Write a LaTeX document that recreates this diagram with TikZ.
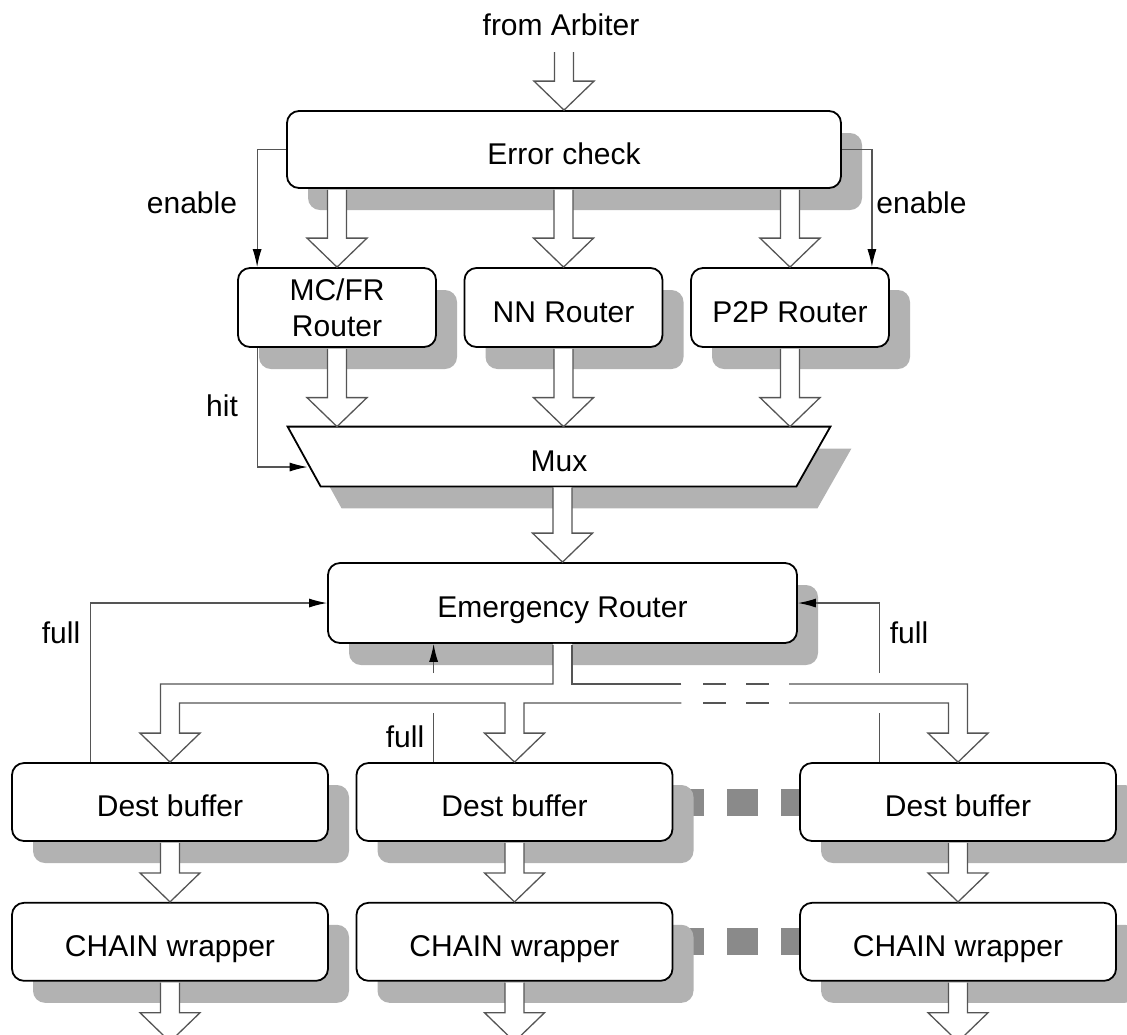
\documentclass[tikz,border=0pt]{standalone}
\usepackage{fontspec}
\setmainfont{Liberation Sans}
\usetikzlibrary{arrows.meta, positioning, calc, shadows, backgrounds}
\definecolor{lnkgray}{HTML}{555555}
\definecolor{shdgray}{HTML}{B2B2B2}
\definecolor{dotgray}{HTML}{8A8A8A}
\tikzset{
  shd/.style={drop shadow={shadow xshift=10.5pt, shadow yshift=-11pt,
    fill=shdgray, opacity=1}},
  block/.style={rectangle, rounded corners=6pt, draw=black, line width=0.9pt,
    fill=white, align=center, inner sep=0pt, text height=14.5pt, text depth=0pt, shd},
  wide/.style={block, minimum width=277pt, minimum height=38.5pt},
  router/.style={block, minimum width=99pt, minimum height=39.5pt},
  buffer/.style={block, minimum width=158pt, minimum height=39pt},
  muxbox/.style={draw=black, line width=0.9pt, fill=white, shd},
  fat/.style={draw=lnkgray, line width=0.65pt, fill=white},
  wire/.style={draw=lnkgray, line width=0.6pt},
  ar/.style={wire, -{Latex[length=9pt, width=4.5pt, black]}},
  lbl/.style={anchor=base, inner sep=0pt},
  dots/.style={dotgray, line width=13.5pt, dash pattern=on 15.5pt off 11.5pt},
}
% hollow data arrow: from #1 down to tip #2
\newcommand{\fatarrow}[2]{%
  \path (#1) coordinate (fa-s) (#2) coordinate (fa-t);
  \draw[fat] ($(fa-t |- fa-s)+(-9.5,1)$) -- ($(fa-t)+(-9.5,-29)$)
    -- ($(fa-t)+(-30,-29)$) -- (fa-t) -- ($(fa-t)+(30,-29)$)
    -- ($(fa-t)+(9.5,-29)$) -- ($(fa-t |- fa-s)+(9.5,1)$);
}
\newcommand{\headat}[1]{-- ($(#1)+(-9.5,-29)$) -- ($(#1)+(-30,-29)$) -- (#1)
  -- ($(#1)+(30,-29)$) -- ($(#1)+(9.5,-29)$)}

\begin{document}
\begin{tikzpicture}[x=0.5pt, y=-0.5pt, font=\fontsize{15}{18}\selectfont]
  \useasboundingbox (0,0) rectangle (1127,1034);
  \clip (0,0) rectangle (1127,1034);

  \node[wide] (ec) at (564,149.5) {Error check};
  \node[router, text height=, text depth=] (mcfr) at (337,307.5) {MC/FR\\Router};
  \node[router] (nn) at (563.5,307.5) {NN Router};
  \node[router] (p2p) at (790,307.5) {P2P Router};

  % mux trapezium
  \node[minimum width=271pt, minimum height=29.5pt, inner sep=0pt] (mux) at (559,456.5) {};
  \draw[muxbox] (mux.north west) -- (mux.north east) -- ($(mux.south east)+(-34,0)$)
    -- ($(mux.south west)+(33,0)$) -- cycle;
  \node[text height=14.5pt, text depth=0pt, inner sep=0pt] (muxtxt) at (mux) {Mux};

  \node[block, minimum width=234.5pt, minimum height=40pt] (er) at (562.5,603) {Emergency Router};

  \node[buffer] (db1) at (170,802) {Dest buffer};
  \node[buffer] (db2) at (514.5,802) {Dest buffer};
  \node[buffer] (db3) at (958,802) {Dest buffer};
  \node[buffer, below=30pt of db1] (ch1) {CHAIN wrapper};
  \node[buffer, below=30pt of db2] (ch2) {CHAIN wrapper};
  \node[buffer, below=30pt of db3] (ch3) {CHAIN wrapper};

  \begin{pgfonlayer}{background}
    \draw[dots] (db2.east) -- (db3.west);
    \draw[dots] (ch2.east) -- (ch3.west);
  \end{pgfonlayer}

  % distribution bus below the emergency router
  \coordinate (bo) at ($(er.south)+(0,40)$);
  \coordinate (bi) at ($(er.south)+(0,59)$);
  \coordinate (gl) at ($(db2.east)+(8,0)$);
  \coordinate (gr) at ($(db3.west)+(-10,0)$);
  \fill[white] ($(er.south)+(-9.5,0)$) -- ($(er.south |- bo)+(-9.5,0)$)
    -- ($(db1.north |- bo)+(-9.5,0)$) \headat{db1.north} -- ($(db1.north |- bi)+(9.5,0)$)
    -- ($(db2.north |- bi)+(-9.5,0)$) \headat{db2.north} -- ($(db2.north |- bi)+(9.5,0)$)
    -- ($(db3.north |- bi)+(-9.5,0)$) \headat{db3.north} -- ($(db3.north |- bo)+(9.5,0)$)
    -- ($(er.south |- bo)+(9.5,0)$) -- ($(er.south)+(9.5,0)$) -- cycle;
  \draw[fat, fill=none] ($(er.south)+(-9.5,1)$) -- ($(er.south |- bo)+(-9.5,0)$)
    -- ($(db1.north |- bo)+(-9.5,0)$) \headat{db1.north} -- ($(db1.north |- bi)+(9.5,0)$)
    -- ($(db2.north |- bi)+(-9.5,0)$) \headat{db2.north} -- ($(db2.north |- bi)+(9.5,0)$)
    -- (gl |- bi);
  \draw[fat, fill=none] (gr |- bi) -- ($(db3.north |- bi)+(-9.5,0)$) \headat{db3.north}
    -- ($(db3.north |- bo)+(9.5,0)$) -- (gr |- bo);
  \draw[fat, fill=none] (gl |- bo) -- ($(er.south |- bo)+(9.5,0)$) -- ($(er.south)+(9.5,1)$);
  \draw[fat, fill=none, dash pattern=on 11.5pt off 10pt]
    ($(gl |- bi)+(22,0)$) -- ($(gr |- bi)+(-20,0)$);
  \draw[fat, fill=none, dash pattern=on 11.5pt off 10pt]
    ($(gl |- bo)+(22,0)$) -- ($(gr |- bo)+(-20,0)$);

  % data arrows
  \coordinate (arb) at ($(ec.north)+(0,-59)$);
  \fatarrow{arb}{ec.north}
  \fatarrow{mcfr.north |- ec.south}{mcfr.north}
  \fatarrow{nn.north |- ec.south}{nn.north}
  \fatarrow{p2p.north |- ec.south}{p2p.north}
  \fatarrow{mcfr.south}{mcfr.south |- mux.north}
  \fatarrow{nn.south}{nn.south |- mux.north}
  \fatarrow{p2p.south}{p2p.south |- mux.north}
  \fatarrow{er.north |- mux.south}{er.north}
  \fatarrow{db1.south}{ch1.north}
  \fatarrow{db2.south}{ch2.north}
  \fatarrow{db3.south}{ch3.north}
  \fatarrow{ch1.south}{$(ch1.south)+(0,60)$}
  \fatarrow{ch2.south}{$(ch2.south)+(0,60)$}
  \fatarrow{ch3.south}{$(ch3.south)+(0,60)$}

  % control wires
  \draw[ar] (ec.west) -| ($(mcfr.north west)+(20,0)$);
  \draw[ar] (ec.east) -| ($(p2p.north east)+(-18,0)$);
  \coordinate (muxhit) at ($(mux.west)+(20,10.5)$);
  \draw[ar] ($(mcfr.south west)+(20,0)$) |- (muxhit);
  \draw[ar] ($(db1.north west)+(79,0)$) |- (er.west);
  \coordinate (fullm) at ($(db2.north west)+(78,0)$);
  \draw[wire] (fullm) -- ++(0,-49);
  \draw[ar] ($(fullm)+(0,-89)$) -- (fullm |- er.south);
  \coordinate (fullr) at ($(db3.north west)+(80,0)$);
  \draw[wire] (fullr) -- ++(0,-49);
  \draw[ar] ($(fullr)+(0,-89)$) |- (er.east);

  % labels
  \node[lbl] (arbtxt) at (561,35) {from Arbiter};
  \node[lbl] (en-l) at (192,213) {enable};
  \node[lbl] (en-r) at (921.5,213) {enable};
  \node[lbl] (hitlbl) at (222,416) {hit};
  \node[lbl] (full-l) at (61,643) {full};
  \node[lbl] (full-m) at (405,747) {full};
  \node[lbl] (full-r) at (909,643) {full};
\end{tikzpicture}
\end{document}
